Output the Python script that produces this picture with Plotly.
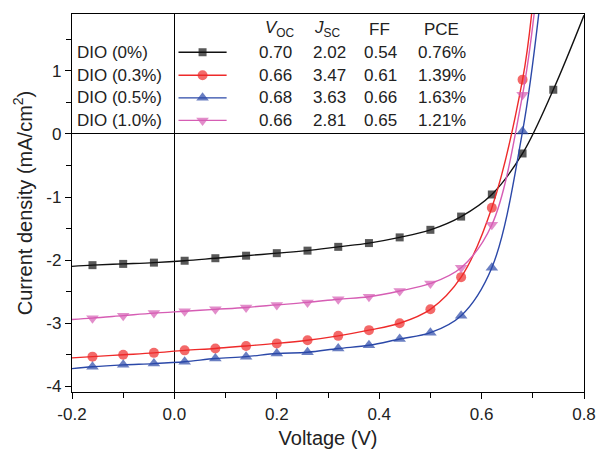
import plotly.graph_objects as go

# marker voltages (V)
V = [-0.16, -0.10, -0.04, 0.02, 0.08, 0.14, 0.20, 0.26, 0.32, 0.38,
     0.44, 0.50, 0.56, 0.62, 0.68, 0.74]

# current density (mA/cm2) at each marker
J_DIO0 = [-2.08, -2.06, -2.04, -2.01, -1.97, -1.93, -1.89, -1.85, -1.79, -1.73,
          -1.64, -1.52, -1.31, -0.96, -0.31, 0.70]
J_DIO03 = [-3.53, -3.50, -3.47, -3.43, -3.40, -3.36, -3.32, -3.27, -3.20, -3.11,
           -3.00, -2.78, -2.27, -1.17, 0.86]
J_DIO05 = [-3.69, -3.66, -3.64, -3.61, -3.56, -3.53, -3.48, -3.46, -3.40, -3.35,
           -3.25, -3.15, -2.88, -2.12, 0.04]
J_DIO10 = [-2.92, -2.88, -2.84, -2.81, -2.78, -2.75, -2.71, -2.67, -2.62, -2.58,
           -2.49, -2.37, -2.12, -1.44, 0.62]

# where each line enters / leaves the frame
START_V = -0.2
START_J = [-2.10, -3.55, -3.72, -2.94]
END_V = [0.80, 0.699, 0.713, 0.704]
END_J = [1.88, 2.0, 2.0, 2.0]

NAMES = ["DIO (0%)", "DIO (0.3%)", "DIO (0.5%)", "DIO (1.0%)"]
VOC = ["0.70", "0.66", "0.68", "0.66"]
JSC = ["2.02", "3.47", "3.63", "2.81"]
FF = ["0.54", "0.61", "0.66", "0.65"]
PCE = ["0.76%", "1.39%", "1.63%", "1.21%"]

X_TICKS = [-0.2, 0.0, 0.2, 0.4, 0.6, 0.8]
X_TICKTEXT = ["-0.2", "0.0", "0.2", "0.4", "0.6", "0.8"]
Y_TICKS = [-4, -3, -2, -1, 0, 1]
Y_TICKTEXT = ["-4", "-3", "-2", "-1", "0", "1"]

COLORS = ["#111111", "#ee2a2a", "#2b48a8", "#d65db4"]
SYMBOLS = ["square", "circle", "triangle-up", "triangle-down"]
SIZES = [8, 10, 11, 11]

FONT = "Liberation Sans, Arial, sans-serif"
TXT = "#222222"

fig = go.Figure()

series = [J_DIO0, J_DIO03, J_DIO05, J_DIO10]
for i, J in enumerate(series):
    n = len(J)
    xs = [START_V] + V[:n] + [END_V[i]]
    ys = [START_J[i]] + J + [END_J[i]]
    sizes = [0] + [SIZES[i]] * n + [0]
    fig.add_trace(go.Scatter(
        x=xs, y=ys, mode="lines+markers", name=NAMES[i],
        line=dict(color=COLORS[i], width=1.4, shape="spline"),
        marker=dict(symbol=SYMBOLS[i], size=sizes, color=COLORS[i], line=dict(width=0)),
        showlegend=False, cliponaxis=True,
    ))

# table-style legend (positions in data units)
ROW_Y = [1.294, 0.929, 0.571, 0.214]
for i in range(4):
    fig.add_trace(go.Scatter(
        x=[0.008, 0.055, 0.102], y=[ROW_Y[i]] * 3, mode="lines+markers",
        line=dict(color=COLORS[i], width=1.4),
        marker=dict(symbol=SYMBOLS[i], size=[0, SIZES[i], 0], color=COLORS[i], line=dict(width=0)),
        showlegend=False, hoverinfo="skip",
    ))
    fig.add_annotation(x=-0.194, y=ROW_Y[i], text=NAMES[i], xanchor="left",
                       yanchor="middle", showarrow=False)
    for cx, vals in zip([0.197, 0.303, 0.403, 0.522], [VOC, JSC, FF, PCE]):
        fig.add_annotation(x=cx, y=ROW_Y[i], text=vals[i], xanchor="center",
                           yanchor="middle", showarrow=False)

HEAD_Y = 1.66
for cx, t in zip([0.207, 0.298, 0.400, 0.521],
                 ["<i>V</i><sub>OC</sub>", "<i>J</i><sub>SC</sub>", "FF", "PCE"]):
    fig.add_annotation(x=cx, y=HEAD_Y, text=t, xanchor="center", yanchor="middle",
                       showarrow=False)

fig.update_annotations(font=dict(family=FONT, size=17, color=TXT))

fig.update_xaxes(
    range=[-0.2, 0.8], tickvals=X_TICKS, ticktext=X_TICKTEXT,
    showline=True, linecolor="black", linewidth=1.3, mirror=True,
    ticks="outside", ticklen=6, tickwidth=1.2, tickcolor="black",
    minor=dict(dtick=0.1, tick0=0, ticks="outside", ticklen=5, tickwidth=1.2, tickcolor="black"),
    showgrid=False, zeroline=True, zerolinecolor="black", zerolinewidth=1.3,
    title=dict(text="Voltage (V)", standoff=9), automargin=False,
)
fig.update_yaxes(
    range=[-4.09, 1.9], tickvals=Y_TICKS, ticktext=Y_TICKTEXT,
    showline=True, linecolor="black", linewidth=1.3, mirror=True,
    ticks="outside", ticklen=6, tickwidth=1.2, tickcolor="black",
    minor=dict(dtick=0.5, tick0=0, ticks="outside", ticklen=5, tickwidth=1.2, tickcolor="black"),
    showgrid=False, zeroline=True, zerolinecolor="black", zerolinewidth=1.3,
    title=dict(text="Current density (mA/cm<sup>2</sup>)", standoff=8), automargin=False,
)

fig.update_layout(
    width=596, height=449,
    margin=dict(l=72, r=12, t=14, b=57),
    font=dict(family=FONT, size=17, color=TXT),
    plot_bgcolor="white", paper_bgcolor="white",
)

# drop the default page margin so the figure sits flush in the window
fig.write_html("out.html", config={"displayModeBar": False},
               post_script="document.body.style.margin='0';document.body.style.overflow='hidden';")
